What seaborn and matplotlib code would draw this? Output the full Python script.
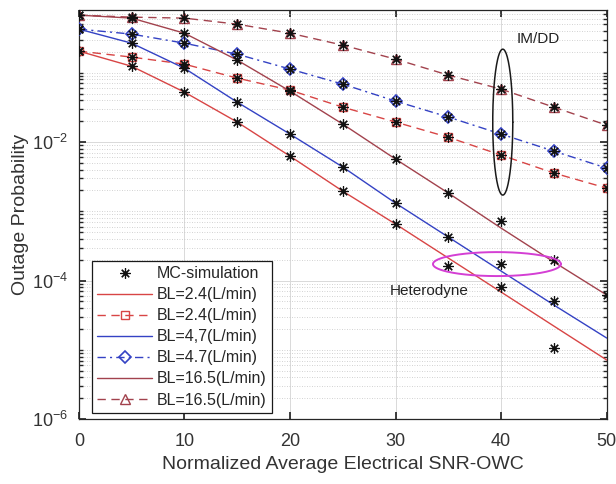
import numpy as np
import matplotlib
matplotlib.use("Agg")
import matplotlib.pyplot as plt
from matplotlib.ticker import LogLocator, NullFormatter, FixedLocator
import seaborn as sns

# Normalized average electrical SNR (x axis)
snr = [0, 5, 10, 15, 20, 25, 30, 35, 40, 45, 50]

# Heterodyne detection, analytical outage probability
het_24 = [0.205, 0.124, 0.0525, 0.0194, 6.25e-3, 1.95e-3, 6.53e-4, 2.11e-4, 6.82e-5, 2.20e-5, 7.13e-6]
het_47 = [0.426, 0.267, 0.116, 0.0376, 0.0130, 4.35e-3, 1.31e-3, 4.24e-4, 1.37e-4, 4.43e-5, 1.48e-5]
het_165 = [0.678, 0.614, 0.372, 0.152, 0.0542, 0.0181, 5.66e-3, 1.83e-3, 5.71e-4, 1.85e-4, 6.18e-5]

# IM/DD detection, analytical outage probability
imdd_24 = [0.205, 0.168, 0.133, 0.0836, 0.0561, 0.0318, 0.0194, 0.0117, 6.47e-3, 3.56e-3, 2.16e-3]
imdd_47 = [0.426, 0.361, 0.267, 0.185, 0.113, 0.0684, 0.0389, 0.0229, 0.0130, 7.38e-3, 4.20e-3]
imdd_165 = [0.678, 0.634, 0.614, 0.502, 0.372, 0.250, 0.157, 0.0923, 0.0579, 0.0318, 0.0175]

# Monte-Carlo simulation points (NaN = not simulated)
nan = float("nan")
mc_het_24 = [0.205, 0.124, 0.0525, 0.0194, 6.25e-3, 1.95e-3, 6.53e-4, 1.62e-4, 8.05e-5, 1.06e-5, nan]
mc_het_47 = [0.426, 0.267, 0.116, 0.0376, 0.0130, 4.35e-3, 1.31e-3, 4.24e-4, 1.73e-4, 5.06e-5, nan]
mc_het_165 = [0.678, 0.614, 0.372, 0.152, 0.0542, 0.0181, 5.66e-3, 1.83e-3, 7.21e-4, 1.98e-4, 6.18e-5]
mc_imdd_24 = imdd_24
mc_imdd_47 = imdd_47
mc_imdd_165 = imdd_165

labels = ["BL=2.4(L/min)", "BL=2.4(L/min)", "BL=4,7(L/min)", "BL=4.7(L/min)",
          "BL=16.5(L/min)", "BL=16.5(L/min)"]

# Highlight ellipses: (x centre, log10 y centre, x half-width, log10 half-height)
imdd_ring = (40.15, -1.713, 0.95, 1.053)
het_ring = (39.6, -3.762, 6.06, 0.173)

c_red = "#d84545"
c_blue = "#3442c4"
c_brown = "#a2424d"

sns.set_theme(style="ticks")
plt.rcParams["font.family"] = ["Liberation Sans", "DejaVu Sans"]
plt.rcParams["mathtext.fontset"] = "custom"
plt.rcParams["mathtext.rm"] = "Liberation Sans"
plt.rcParams["mathtext.it"] = "Liberation Sans:italic"

fig, ax = plt.subplots(figsize=(6.16, 4.84), dpi=100)
fig.subplots_adjust(left=0.128, right=0.985, top=0.979, bottom=0.134)
ax.set_yscale("log")

lw = 1.0
curves = [
    (het_24, dict(color=c_red, linestyle="-")),
    (imdd_24, dict(color=c_red, linestyle=(0, (6, 4)), marker="s", markersize=6,
                   markerfacecolor="none", markeredgecolor=c_red, markeredgewidth=1.0)),
    (het_47, dict(color=c_blue, linestyle="-")),
    (imdd_47, dict(color=c_blue, linestyle=(0, (6, 3, 1.5, 3)), marker="D", markersize=6,
                   markerfacecolor="none", markeredgecolor=c_blue, markeredgewidth=1.2)),
    (het_165, dict(color=c_brown, linestyle="-")),
    (imdd_165, dict(color=c_brown, linestyle=(0, (6, 4)), marker="^", markersize=7,
                    markerfacecolor="none", markeredgecolor=c_brown, markeredgewidth=1.0)),
]
line_handles = []
for (vals, style), lab in zip(curves, labels):
    sns.lineplot(x=snr, y=vals, ax=ax, linewidth=lw, label=lab, zorder=3, **style)
    line_handles.append(ax.lines[-1])

star = (8, 2, 0)
mc_handle = None
for vals in [mc_het_24, mc_imdd_24, mc_het_47, mc_imdd_47, mc_het_165, mc_imdd_165]:
    xs = [x for x, v in zip(snr, vals) if not np.isnan(v)]
    ys = [v for v in vals if not np.isnan(v)]
    sns.lineplot(x=xs, y=ys, ax=ax, linestyle="none", marker=star, markersize=7.5,
                 markeredgewidth=0.85, color="black", markeredgecolor="#111111", zorder=5)
    mc_handle = ax.lines[-1]

# Highlight ellipses drawn in (x, log10 y) space
t = np.linspace(0, 2 * np.pi, 200)
for (cx, cy, rx, ry), col, w in [(imdd_ring, "#1a1a1a", 1.1), (het_ring, "#d43fd4", 1.4)]:
    ax.plot(cx + rx * np.cos(t), 10 ** (cy + ry * np.sin(t)), color=col, lw=w, zorder=6)

ax.text(43.5, 10 ** -0.52, "IM/DD", fontsize=11, ha="center", va="center", color="#222222")
ax.text(29.45, 10 ** -4.15, "Heterodyne", fontsize=11, ha="left", va="center", color="#222222")

ax.set_xlim(0, 50)
ax.set_ylim(1e-6, 10 ** -0.097)
ax.set_xticks([0, 10, 20, 30, 40, 50])
ax.yaxis.set_major_locator(FixedLocator([1e-6, 1e-4, 1e-2]))
ax.yaxis.set_minor_locator(LogLocator(base=10, subs=np.arange(1, 10), numticks=20))
ax.yaxis.set_minor_formatter(NullFormatter())

ax.grid(True, which="major", axis="both", color="#d9d9d9", linewidth=0.7, linestyle="-")
ax.grid(True, which="minor", axis="y", color="#c4c4c4", linewidth=0.6, linestyle=(0, (1, 2)))
ax.set_axisbelow(True)

ax.tick_params(which="both", direction="in", top=True, right=True, colors="#262626",
               labelcolor="#333333")
ax.tick_params(which="major", length=5, labelsize=13, pad=8)
ax.tick_params(axis="x", which="major", pad=10)
ax.tick_params(which="minor", length=3)
for sp in ax.spines.values():
    sp.set_color("#262626")
    sp.set_linewidth(0.9)

ax.set_xlabel("Normalized Average Electrical SNR-OWC", fontsize=14, color="#333333", labelpad=4)
ax.set_ylabel("Outage Probability", fontsize=14, color="#333333", labelpad=2)

handles = [mc_handle] + line_handles
leg_labels = ["MC-simulation"] + labels
leg = ax.legend(handles, leg_labels, loc="lower left", bbox_to_anchor=(0.0246, 0.0147),
                borderaxespad=0, fontsize=11.5, frameon=True, fancybox=False,
                edgecolor="#1a1a1a", framealpha=1, handlelength=3.4, handletextpad=0.3,
                labelspacing=0.38, borderpad=0.35)
leg.get_frame().set_linewidth(0.9)

fig.savefig("out.png", dpi=100)
